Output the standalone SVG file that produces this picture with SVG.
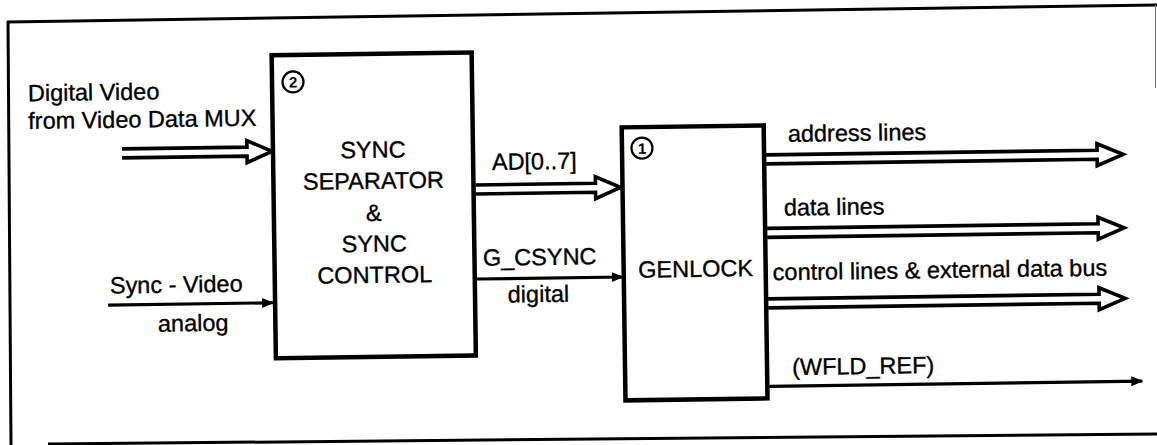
<svg xmlns="http://www.w3.org/2000/svg" width="1157" height="445" viewBox="0 0 1157 445">
<style>
  .t { font-family: "Liberation Sans", Arial, Helvetica, sans-serif; font-size: 23.5px; fill: #000; stroke: #000; stroke-width: 0.35; }
  .c { text-anchor: middle; }
  .num { font-family: "Liberation Sans", Arial, sans-serif; font-size: 15px; font-weight: bold; fill: #000; text-anchor: middle; }
  .box { fill: #fff; stroke: #000; stroke-width: 4.5; stroke-linejoin: miter; }
  .circ { fill: none; stroke: #000; stroke-width: 2.2; }
  .bus { fill: #fff; stroke: #000; stroke-width: 3.6; stroke-linejoin: miter; }
  .wire { fill: none; stroke: #000; stroke-width: 3.2; }
  .frame { fill: none; stroke: #000; stroke-width: 3; }
</style>
<defs>
  <marker id="ah" markerUnits="userSpaceOnUse" markerWidth="12" markerHeight="12" viewBox="0 0 12 12" refX="11" refY="6" orient="auto">
    <path d="M0,1 L12,6 L0,11 Z" fill="#000"/>
  </marker>
</defs>
<rect width="1157" height="445" fill="#fff"/>
<g id="frame">
  <line class="frame" x1="7" y1="22" x2="1157" y2="5"/>
  <line class="frame" x1="8" y1="21" x2="11" y2="445"/>
  <line class="frame" x1="48" y1="444" x2="1157" y2="434"/>
  <line x1="1155.5" y1="5" x2="1155.5" y2="88" stroke="#777" stroke-width="1"/>
</g>
<g transform="rotate(-0.8 578 222)">
  <g id="connectors">
    <path class="bus" d="M123 142.5 H248 V136 L273 147 L248 158 V151.5 H123"/>
    <path class="bus" d="M476 183.5 H596 V177 L621 188 L596 199 V192.5 H476"/>
    <path class="bus" d="M767 157.5 H1098 V151 L1124 162 L1098 173 V166.5 H767"/>
    <path class="bus" d="M767 231 H1098 V224.5 L1124 235.5 L1098 246.5 V240 H767"/>
    <path class="bus" d="M767 301.5 H1098 V295 L1124 306 L1098 317 V310.5 H767"/>
    <line class="wire" x1="107" y1="298.5" x2="272" y2="298.5" marker-end="url(#ah)"/>
    <line class="wire" x1="476" y1="277.6" x2="622" y2="277.6" marker-end="url(#ah)"/>
    <line class="wire" x1="767" y1="389" x2="1140" y2="389" marker-end="url(#ah)"/>
  </g>
  <g id="labels">
    <text class="t" x="29.7" y="93.5">Digital Video</text>
    <text class="t" x="29.7" y="121.3">from Video Data MUX</text>
    <text class="t" x="109" y="287">Sync - Video</text>
    <text class="t" x="156.5" y="325.8">analog</text>
    <text class="t" x="492.7" y="168.8">AD[0..7]</text>
    <text class="t" x="482.4" y="264.5">G_CSYNC</text>
    <text class="t c" x="537.4" y="301.5">digital</text>
    <text class="t" x="789" y="144.8">address lines</text>
    <text class="t" x="784" y="218.5">data lines</text>
    <text class="t" x="772" y="283">control lines &amp; external data bus</text>
    <text class="t" x="790" y="378">(WFLD_REF)</text>
  </g>
  <g id="sync-separator">
    <rect class="box" x="274" y="51" width="200" height="303"/>
    <circle class="circ" cx="295" cy="78" r="10.5"/>
    <text class="num" x="295" y="83.5">2</text>
    <text class="t c" x="374" y="155">SYNC</text>
    <text class="t c" x="374" y="186">SEPARATOR</text>
    <text class="t c" x="374" y="218">&amp;</text>
    <text class="t c" x="374" y="249">SYNC</text>
    <text class="t c" x="374" y="280">CONTROL</text>
  </g>
  <g id="genlock">
    <rect class="box" x="623" y="128" width="142" height="273"/>
    <circle class="circ" cx="643" cy="149" r="10.5"/>
    <text class="num" x="643" y="154.5">1</text>
    <text class="t c" x="695" y="278.6">GENLOCK</text>
  </g>
</g>
</svg>
